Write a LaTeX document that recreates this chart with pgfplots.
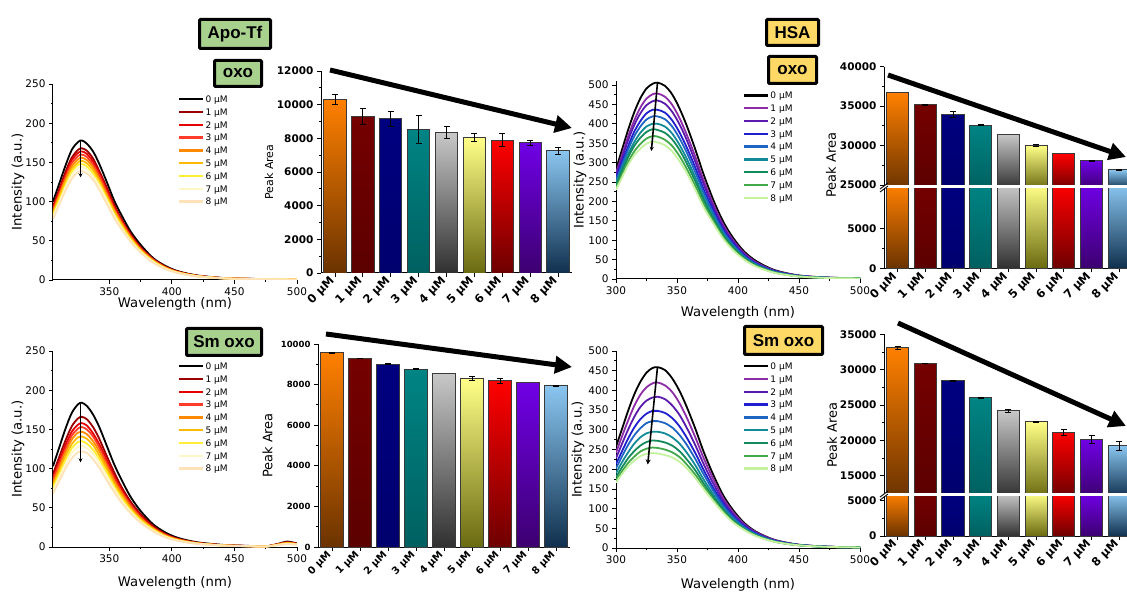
\documentclass[border=0pt]{standalone}
\usepackage{pgfplots}
\pgfplotsset{compat=1.18}
\usepackage{pgfplotstable}
\usepackage{fontspec}
\setmainfont{DejaVu Sans}
\newfontfamily\tagfont{Liberation Sans}
\usetikzlibrary{arrows.meta}

% ---------- emission spectra (wavelength in nm, intensity in a.u.) ----------
% Apo-Tf + oxo
\pgfplotstableread{
wl  c0  c1  c2  c3  c4  c5  c6  c7  c8
305 100 94  92  90  87  85  83  81  78
310 123 116 113 110 108 105 102 99  96
315 146 138 134 131 128 125 121 118 114
320 166 156 153 149 145 141 138 134 129
325 176 166 162 158 154 150 147 143 138
328 178 168 164 160 156 152 148 144 139
332 174 165 161 157 153 149 145 141 136
337 164 155 151 147 144 140 136 132 128
342 148 139 136 133 129 126 123 120 115
348 125 118 115 112 109 106 104 101 97
354 101 96  93  91  89  87  84  82  79
360 82  77  75  74  72  70  68  66  64
367 62  59  57  56  55  53  52  50  49
375 45  42  41  40  39  38  37  36  35
385 28  27  26  26  25  24  24  23  22
395 17.8 16.8 16.4 16 15.6 15.2 14.8 14.4 13.9
405 11.2 10.6 10.3 10.1 9.8 9.6 9.3 9.1 8.8
420 5.9 5.5 5.4 5.3 5.1 5.0 4.9 4.8 4.6
440 2.7 2.5 2.5 2.4 2.3 2.3 2.2 2.2 2.1
460 1.6 1.5 1.5 1.4 1.4 1.4 1.3 1.3 1.3
480 1.1 1.0 1.0 1.0 0.9 0.9 0.9 0.9 0.8
500 0.9 0.8 0.8 0.8 0.8 0.8 0.7 0.7 0.7
}\tabA

% Apo-Tf + Sm oxo
\pgfplotstableread{
wl  c0  c1  c2  c3  c4  c5  c6  c7  c8
305 103 93  88  86  82  79  76  72  68
310 127 115 109 106 101 97  93  89  84
315 151 136 130 125 121 116 111 106 100
320 171 154 147 142 137 131 126 120 113
325 182 164 156 151 146 140 134 128 121
328 184 166 158 153 147 141 135 129 122
332 180 163 155 150 144 138 132 126 120
337 169 153 145 141 135 130 124 119 112
342 153 138 131 127 122 117 112 107 101
348 129 116 111 107 103 99  95  90  85
354 105 95  90  87  84  80  77  74  70
360 85  76  73  70  68  65  62  59  56
367 64  58  55  54  51  49  47  45  43
375 46  42  40  38  37  35  34  32  31
385 29  27  25  24  24  23  22  21  20
395 18.4 16.6 15.8 15.3 14.7 14.1 13.5 12.9 12.2
405 11.6 10.5 10 9.6 9.3 8.9 8.5 8.1 7.7
420 6.1 5.5 5.2 5.0 4.9 4.7 4.5 4.3 4.0
440 2.8 2.5 2.4 2.3 2.2 2.1 2.0 1.9 1.8
460 1.5 1.3 1.3 1.2 1.2 1.1 1.1 1.0 1.0
475 0.9 0.8 0.8 0.8 0.7 0.7 0.7 0.6 0.6
485 4.0 3.8 3.6 3.4 3.2 3.0 2.8 2.6 2.4
492 7.0 6.2 5.8 5.5 5.2 4.8 4.4 4.0 3.7
500 4.5 4.2 4.0 3.8 3.6 3.4 3.2 3.0 2.8
}\tabE

% HSA + oxo
\pgfplotstableread{
wl  c0  c1  c2  c3  c4  c5  c6  c7  c8
300 283 273 268 260 254 247 242 235 230
305 334 320 313 302 294 285 278 269 262
310 385 368 358 343 334 322 314 302 294
315 430 409 397 380 368 353 343 329 319
320 466 442 427 407 393 377 364 348 336
325 491 465 448 427 411 393 379 362 349
330 503 476 458 436 419 400 386 368 354
334 506 478 460 436 419 400 384 367 352
340 498 470 452 429 412 393 377 359 345
346 476 449 431 409 393 375 360 343 329
352 440 415 399 378 363 346 333 317 304
358 395 372 358 339 326 310 298 284 273
365 334 315 302 287 275 262 252 240 230
372 268 253 243 230 221 210 202 192 184
380 202 191 184 175 168 160 154 147 142
388 147 139 133 127 122 116 112 107 103
396 106 100 97  92  88  84  81  77  74
405 71  67  64  61  59  56  54  52  50
415 46  43  41  39  38  36  35  33  32
430 23 21.5 20.7 19.7 18.9 18 17.4 16.6 15.9
450 9.1 8.6 8.3 7.9 7.6 7.2 6.9 6.6 6.4
475 3.5 3.3 3.2 3.1 2.9 2.8 2.7 2.6 2.5
500 2.0 1.9 1.8 1.7 1.7 1.6 1.5 1.5 1.4
}\tabC

% HSA + Sm oxo
\pgfplotstableread{
wl  c0  c1  c2  c3  c4  c5  c6  c7  c8
300 257 242 228 213 202 190 180 172 166
305 303 284 265 246 233 218 205 195 188
310 349 324 301 278 262 243 228 216 207
315 390 361 333 306 286 265 246 232 222
320 422 389 358 327 304 281 260 245 233
325 445 408 374 341 317 291 269 252 239
330 457 418 382 348 322 295 273 255 241
334 459 420 384 348 322 295 272 254 240
340 452 413 378 343 317 291 268 250 236
346 431 396 362 330 306 281 260 243 230
352 399 368 338 309 287 265 246 231 219
358 358 331 305 280 262 242 225 212 202
365 303 281 261 241 226 210 197 186 178
372 243 227 212 197 186 173 163 155 149
380 184 173 162 151 144 135 128 122 118
388 133 126 119 112 107 101 96  92  89
396 96  91  86  81  78  73  70  67  65
405 64  61  59  55  53  51  48  47  46
415 41 39.5 38  36  35  33  32  31  30
430 20.7 20 19.2 18.3 17.8 17 16.4 15.9 15.7
450 8.3 8.0 7.9 7.7 7.4 7.1 7.0 6.9 6.7
475 3.2 3.2 3.1 3.0 2.9 2.8 2.7 2.7 2.7
500 1.8 1.8 1.7 1.7 1.6 1.6 1.5 1.5 1.4
}\tabG

% ---------- colours ----------
\definecolor{ap0}{HTML}{000000}
\definecolor{ap1}{HTML}{9B0000}
\definecolor{ap2}{HTML}{E60000}
\definecolor{ap3}{HTML}{FF3B2A}
\definecolor{ap4}{HTML}{FF8A00}
\definecolor{ap5}{HTML}{FFBA00}
\definecolor{ap6}{HTML}{FFEE33}
\definecolor{ap7}{HTML}{FFF6C8}
\definecolor{ap8}{HTML}{FFE2B8}
\definecolor{hs0}{HTML}{000000}
\definecolor{hs1}{HTML}{8E2CA8}
\definecolor{hs2}{HTML}{5B1AAE}
\definecolor{hs3}{HTML}{1F1FCF}
\definecolor{hs4}{HTML}{1F66C4}
\definecolor{hs5}{HTML}{138A98}
\definecolor{hs6}{HTML}{128A5C}
\definecolor{hs7}{HTML}{42A84A}
\definecolor{hs8}{HTML}{C6F2A0}
\definecolor{tagG}{HTML}{A9D18E}
\definecolor{tagO}{HTML}{FFD966}
\definecolor{barline}{HTML}{3A3A3A}

\pgfplotsset{
  /pgf/number format/assume math mode=true,
  b0/.style={top color={rgb,255:red,255;green,128;blue,0}, bottom color={rgb,255:red,107;green,51;blue,0}},
  b1/.style={top color={rgb,255:red,117;green,0;blue,0}, bottom color={rgb,255:red,92;green,0;blue,0}},
  b2/.style={top color={rgb,255:red,0;green,0;blue,128}, bottom color={rgb,255:red,0;green,0;blue,110}},
  b3/.style={top color={rgb,255:red,0;green,132;blue,132}, bottom color={rgb,255:red,0;green,96;blue,96}},
  b4/.style={top color={rgb,255:red,200;green,200;blue,200}, bottom color={rgb,255:red,48;green,48;blue,48}},
  b5/.style={top color={rgb,255:red,255;green,255;blue,136}, bottom color={rgb,255:red,106;green,106;blue,16}},
  b6/.style={top color={rgb,255:red,255;green,0;blue,0}, bottom color={rgb,255:red,110;green,0;blue,0}},
  b7/.style={top color={rgb,255:red,112;green,0;blue,230}, bottom color={rgb,255:red,60;green,0;blue,112}},
  b8/.style={top color={rgb,255:red,138;green,198;blue,240}, bottom color={rgb,255:red,16;green,48;blue,78}},
  common/.style={
    scale only axis,
    axis x line=bottom, axis y line=left,
    axis line style={-, line width=1pt},
    tick align=outside,
    major tick length=4pt, minor tick length=2.2pt,
    every tick/.style={black, line width=0.8pt},
    scaled y ticks=false,
    yticklabel style={/pgf/number format/fixed, /pgf/number format/1000 sep={}},
  },
  spec/.style={
    common, width=244pt,
    minor x tick num=1, minor y tick num=1,
    tick label style={font=\fontsize{10.5}{12}\selectfont},
    label style={font=\fontsize{13.2}{15}\selectfont},
    xlabel={Wavelength (nm)}, ylabel={Intensity (a.u.)},
    legend cell align=left,
    legend style={draw=none, fill=none, anchor=north west,
      font=\fontsize{9}{9}\selectfont, row sep=4.3pt, inner sep=0pt,
      nodes={inner sep=1pt, text height=6.5pt, text depth=0pt}},
    legend image code/.code={\draw[#1, line width=2.4pt] (0pt,0pt) -- (24pt,0pt);},
  },
  spl/.style={smooth, line width=1.8pt, mark=none},
  bars/.style={
    common,
    xtick={0,...,8},
    xticklabels={0 µM,1 µM,2 µM,3 µM,4 µM,5 µM,6 µM,7 µM,8 µM},
    minor y tick num=1,
  },
  bar/.style={ybar, bar width=0.8, bar shift=0pt, draw=barline, line width=0.9pt},
  blk/.style={draw=barline, line width=0.9pt},
  eb/.style={draw=none, mark=none, forget plot,
    error bars/.cd, y dir=both, y explicit,
    error bar style={draw=black, line width=0.8pt},
    error mark options={draw=black, rotate=90, mark size=3pt, line width=0.8pt}},
}

\begin{document}
\begin{tikzpicture}
\path[use as bounding box] (0pt,0pt) rectangle (1127pt,592pt);
\clip (0pt,0pt) rectangle (1127pt,592pt);

% ===== Apo-Tf + oxo : spectra =====
\begin{axis}[spec, at={(53pt,312pt)}, anchor=south west, height=196pt,
  xmin=305, xmax=500, ymin=0, ymax=250, xtick={350,400,450,500}, ytick={0,50,...,250},
  xlabel style={at={(axis description cs:0.5,-0.12)}, anchor=center},
  ylabel style={at={(axis description cs:-0.143,0.5)}, anchor=center},
  legend style={at={(0.512,0.945)}}]
\pgfplotsinvokeforeach{0,...,8}{\addplot[spl, color=ap#1] table[x=wl, y=c#1] {\tabA};}
\legend{0 µM,1 µM,2 µM,3 µM,4 µM,5 µM,6 µM,7 µM,8 µM}
\draw[line width=1.6pt, -{Stealth[length=4pt,width=4pt]}] (axis cs:327,178) -- (axis cs:327,131);
\end{axis}

% ===== Apo-Tf + oxo : peak area =====
\begin{axis}[bars, at={(321pt,319pt)}, anchor=south west, width=251pt, height=202pt,
  xmin=-0.5, xmax=8.5, ymin=0, ymax=12000, ytick={0,2000,...,12000},
  yticklabel style={font=\bfseries\fontsize{10.5}{12}\selectfont},
  xticklabel style={rotate=45, anchor=east, font=\bfseries\fontsize{11.5}{12}\selectfont},
  ylabel={Peak Area}, ylabel style={at={(axis description cs:-0.207,0.5)}, anchor=center, font=\fontsize{11}{13}\selectfont}]
\addplot[bar, b0] coordinates {(0,10320)};
\addplot[bar, b1] coordinates {(1,9310)};
\addplot[bar, b2] coordinates {(2,9170)};
\addplot[bar, b3] coordinates {(3,8540)};
\addplot[bar, b4] coordinates {(4,8360)};
\addplot[bar, b5] coordinates {(5,8050)};
\addplot[bar, b6] coordinates {(6,7890)};
\addplot[bar, b7] coordinates {(7,7730)};
\addplot[bar, b8] coordinates {(8,7260)};
\addplot[eb] coordinates {(0,10320) +- (0,300) (1,9310) +- (0,475) (2,9170) +- (0,445)
  (3,8540) +- (0,830) (4,8360) +- (0,375) (5,8050) +- (0,250) (6,7890) +- (0,395)
  (7,7730) +- (0,170) (8,7260) +- (0,200)};
\end{axis}

% ===== HSA + oxo : spectra =====
\begin{axis}[spec, at={(616pt,313pt)}, anchor=south west, height=197.9pt,
  xmin=300, xmax=500, ymin=0, ymax=510, xtick={300,350,...,500}, ytick={0,50,...,500},
  xlabel style={at={(axis description cs:0.5,-0.172)}, anchor=center},
  ylabel style={at={(axis description cs:-0.1475,0.5)}, anchor=center},
  legend style={at={(0.52,0.95)}}]
\pgfplotsinvokeforeach{0,...,8}{\addplot[spl, color=hs#1] table[x=wl, y=c#1] {\tabC};}
\legend{0 µM,1 µM,2 µM,3 µM,4 µM,5 µM,6 µM,7 µM,8 µM}
\draw[line width=1.6pt, -{Stealth[length=4pt,width=4pt]}] (axis cs:334,506) -- (axis cs:329,330);
\end{axis}

% ===== HSA + oxo : peak area (broken axis) =====
\begin{axis}[bars, at={(884pt,407pt)}, anchor=south west, width=243pt, height=118.3pt,
  xmin=-0.49, xmax=8.28, ymin=25000, ymax=40000, ytick={25000,30000,35000,40000},
  axis x line=none, xtick=\empty,
  yticklabel style={font=\bfseries\fontsize{10.5}{12}\selectfont}]
\addplot[blk, b0] coordinates {(-0.4,24500) (-0.4,36700) (0.4,36700) (0.4,24500)};
\addplot[blk, b1] coordinates {(0.6,24500) (0.6,35180) (1.4,35180) (1.4,24500)};
\addplot[blk, b2] coordinates {(1.6,24500) (1.6,33960) (2.4,33960) (2.4,24500)};
\addplot[blk, b3] coordinates {(2.6,24500) (2.6,32600) (3.4,32600) (3.4,24500)};
\addplot[blk, b4] coordinates {(3.6,24500) (3.6,31460) (4.4,31460) (4.4,24500)};
\addplot[blk, b5] coordinates {(4.6,24500) (4.6,30030) (5.4,30030) (5.4,24500)};
\addplot[blk, b6] coordinates {(5.6,24500) (5.6,28970) (6.4,28970) (6.4,24500)};
\addplot[blk, b7] coordinates {(6.6,24500) (6.6,28080) (7.4,28080) (7.4,24500)};
\addplot[blk, b8] coordinates {(7.6,24500) (7.6,26940) (8.4,26940) (8.4,24500)};
\addplot[eb] coordinates {(1,35180) +- (0,50) (2,33960) +- (0,380) (3,32600) +- (0,50)
  (5,30030) +- (0,100) (7,28080) +- (0,50) (8,26940) +- (0,50)};
\end{axis}
\begin{axis}[bars, at={(884pt,323.7pt)}, anchor=south west, width=243pt, height=80pt,
  xmin=-0.49, xmax=8.28, ymin=0, ymax=10000, ytick={0,5000},
  yticklabel style={font=\bfseries\fontsize{10.5}{12}\selectfont},
  xticklabel style={rotate=45, anchor=east, font=\bfseries\fontsize{11.5}{12}\selectfont}]
\addplot[blk, b0] coordinates {(-0.4,10500) (-0.4,0) (0.4,0) (0.4,10500)};
\addplot[blk, b1] coordinates {(0.6,10500) (0.6,0) (1.4,0) (1.4,10500)};
\addplot[blk, b2] coordinates {(1.6,10500) (1.6,0) (2.4,0) (2.4,10500)};
\addplot[blk, b3] coordinates {(2.6,10500) (2.6,0) (3.4,0) (3.4,10500)};
\addplot[blk, b4] coordinates {(3.6,10500) (3.6,0) (4.4,0) (4.4,10500)};
\addplot[blk, b5] coordinates {(4.6,10500) (4.6,0) (5.4,0) (5.4,10500)};
\addplot[blk, b6] coordinates {(5.6,10500) (5.6,0) (6.4,0) (6.4,10500)};
\addplot[blk, b7] coordinates {(6.6,10500) (6.6,0) (7.4,0) (7.4,10500)};
\addplot[blk, b8] coordinates {(7.6,10500) (7.6,0) (8.4,0) (8.4,10500)};
\end{axis}

% ===== Apo-Tf + Sm oxo : spectra =====
\begin{axis}[spec, at={(53pt,45pt)}, anchor=south west, height=196pt,
  xmin=305, xmax=500, ymin=0, ymax=250, xtick={350,400,450,500}, ytick={0,50,...,250},
  xlabel style={at={(axis description cs:0.5,-0.184)}, anchor=center},
  ylabel style={at={(axis description cs:-0.143,0.5)}, anchor=center},
  legend style={at={(0.512,0.945)}}]
\pgfplotsinvokeforeach{0,...,8}{\addplot[spl, color=ap#1] table[x=wl, y=c#1] {\tabE};}
\legend{0 µM,1 µM,2 µM,3 µM,4 µM,5 µM,6 µM,7 µM,8 µM}
\draw[line width=1.6pt, -{Stealth[length=4pt,width=4pt]}] (axis cs:327,184) -- (axis cs:327,108);
\end{axis}

% ===== Apo-Tf + Sm oxo : peak area =====
\begin{axis}[bars, at={(318pt,45pt)}, anchor=south west, width=252pt, height=203pt,
  xmin=-0.5, xmax=8.5, ymin=0, ymax=10000, ytick={0,2000,...,10000},
  yticklabel style={font=\bfseries\fontsize{8.5}{10}\selectfont},
  xticklabel style={rotate=45, anchor=east, font=\bfseries\fontsize{10}{12}\selectfont},
  ylabel={Peak Area}, ylabel style={at={(axis description cs:-0.2,0.5)}, anchor=center, font=\fontsize{13}{15}\selectfont}]
\addplot[bar, b0] coordinates {(0,9560)};
\addplot[bar, b1] coordinates {(1,9290)};
\addplot[bar, b2] coordinates {(2,9010)};
\addplot[bar, b3] coordinates {(3,8760)};
\addplot[bar, b4] coordinates {(4,8570)};
\addplot[bar, b5] coordinates {(5,8290)};
\addplot[bar, b6] coordinates {(6,8190)};
\addplot[bar, b7] coordinates {(7,8090)};
\addplot[bar, b8] coordinates {(8,7940)};
\addplot[eb] coordinates {(0,9560) +- (0,25) (1,9290) +- (0,20) (2,9010) +- (0,25)
  (3,8760) +- (0,35) (5,8290) +- (0,100) (6,8190) +- (0,130) (8,7940) +- (0,45)};
\end{axis}

% ===== HSA + Sm oxo : spectra =====
\begin{axis}[spec, at={(616pt,44pt)}, anchor=south west, height=197pt,
  xmin=300, xmax=500, ymin=0, ymax=500, xtick={300,350,...,500}, ytick={0,50,...,500},
  xlabel style={at={(axis description cs:0.5,-0.188)}, anchor=center},
  ylabel style={at={(axis description cs:-0.156,0.5)}, anchor=center},
  legend style={at={(0.52,0.945)}}]
\pgfplotsinvokeforeach{0,...,8}{\addplot[spl, color=hs#1] table[x=wl, y=c#1] {\tabG};}
\legend{0 µM,1 µM,2 µM,3 µM,4 µM,5 µM,6 µM,7 µM,8 µM}
\draw[line width=1.6pt, -{Stealth[length=5pt,width=5pt]}] (axis cs:334,459) -- (axis cs:326,212);
\end{axis}

% ===== HSA + Sm oxo : peak area (broken axis) =====
\begin{axis}[bars, at={(884pt,99.3pt)}, anchor=south west, width=243pt, height=158.4pt,
  xmin=-0.49, xmax=8.28, ymin=12600, ymax=35000, ytick={15000,20000,...,35000},
  axis x line=none, xtick=\empty,
  yticklabel style={font=\bfseries\fontsize{10.5}{12}\selectfont}]
\addplot[blk, b0] coordinates {(-0.4,12000) (-0.4,33070) (0.4,33070) (0.4,12000)};
\addplot[blk, b1] coordinates {(0.6,12000) (0.6,30850) (1.4,30850) (1.4,12000)};
\addplot[blk, b2] coordinates {(1.6,12000) (1.6,28440) (2.4,28440) (2.4,12000)};
\addplot[blk, b3] coordinates {(2.6,12000) (2.6,26040) (3.4,26040) (3.4,12000)};
\addplot[blk, b4] coordinates {(3.6,12000) (3.6,24200) (4.4,24200) (4.4,12000)};
\addplot[blk, b5] coordinates {(4.6,12000) (4.6,22640) (5.4,22640) (5.4,12000)};
\addplot[blk, b6] coordinates {(5.6,12000) (5.6,21090) (6.4,21090) (6.4,12000)};
\addplot[blk, b7] coordinates {(6.6,12000) (6.6,20140) (7.4,20140) (7.4,12000)};
\addplot[blk, b8] coordinates {(7.6,12000) (7.6,19250) (8.4,19250) (8.4,12000)};
\addplot[eb] coordinates {(0,33070) +- (0,190) (1,30850) +- (0,30) (2,28440) +- (0,30)
  (3,26040) +- (0,50) (4,24200) +- (0,210) (5,22640) +- (0,40) (6,21090) +- (0,450)
  (7,20140) +- (0,590) (8,19250) +- (0,610)};
\end{axis}
\begin{axis}[bars, at={(884pt,56pt)}, anchor=south west, width=243pt, height=39.6pt,
  xmin=-0.49, xmax=8.28, ymin=0, ymax=5600, ytick={0,5000},
  yticklabel style={font=\bfseries\fontsize{10.5}{12}\selectfont},
  xticklabel style={rotate=45, anchor=east, font=\bfseries\fontsize{11.5}{12}\selectfont}]
\addplot[blk, b0] coordinates {(-0.4,6000) (-0.4,0) (0.4,0) (0.4,6000)};
\addplot[blk, b1] coordinates {(0.6,6000) (0.6,0) (1.4,0) (1.4,6000)};
\addplot[blk, b2] coordinates {(1.6,6000) (1.6,0) (2.4,0) (2.4,6000)};
\addplot[blk, b3] coordinates {(2.6,6000) (2.6,0) (3.4,0) (3.4,6000)};
\addplot[blk, b4] coordinates {(3.6,6000) (3.6,0) (4.4,0) (4.4,6000)};
\addplot[blk, b5] coordinates {(4.6,6000) (4.6,0) (5.4,0) (5.4,6000)};
\addplot[blk, b6] coordinates {(5.6,6000) (5.6,0) (6.4,0) (6.4,6000)};
\addplot[blk, b7] coordinates {(6.6,6000) (6.6,0) (7.4,0) (7.4,6000)};
\addplot[blk, b8] coordinates {(7.6,6000) (7.6,0) (8.4,0) (8.4,6000)};
\end{axis}

% shared y titles of the broken axes
\node[rotate=90, font=\fontsize{13}{15}\selectfont] at (831pt,427pt) {Peak Area};
\node[rotate=90, font=\fontsize{13}{15}\selectfont] at (832pt,157pt) {Peak Area};

% axis-break marks
\draw[line width=0.9pt] (880pt,403pt) -- (888pt,409pt);
\draw[line width=0.9pt] (880pt,400pt) -- (888pt,406pt);
\draw[line width=0.9pt] (880pt,95pt) -- (888pt,101pt);
\draw[line width=0.9pt] (880pt,92pt) -- (888pt,98pt);

% trend arrows
\begin{scope}[line width=5pt, -{Triangle[length=17pt,width=17pt]}]
\draw (330pt,522pt) -- (572pt,464pt);
\draw (888pt,517pt) -- (1126pt,435pt);
\draw (326pt,258pt) -- (572pt,225pt);
\draw (898pt,269pt) -- (1126pt,166pt);
\end{scope}

% sample tags
\begin{scope}[every node/.style={draw, line width=3pt, inner sep=0pt, rounded corners=1pt,
    font=\tagfont\bfseries\fontsize{17}{17}\selectfont}]
\node[fill=tagG, minimum width=71pt, minimum height=29pt] at (235pt,558pt) {Apo-Tf};
\node[fill=tagG, minimum width=47pt, minimum height=26pt] at (238pt,518.5pt) {oxo};
\node[fill=tagO, minimum width=52pt, minimum height=26pt] at (792.5pt,559.5pt) {HSA};
\node[fill=tagO, minimum width=48pt, minimum height=27pt] at (792.5pt,522pt) {oxo};
\node[fill=tagG, minimum width=75pt, minimum height=27pt] at (224pt,250pt) {Sm oxo};
\node[fill=tagO, minimum width=78pt, minimum height=28pt] at (783.5pt,251.5pt) {Sm oxo};
\end{scope}
\end{tikzpicture}
\end{document}
